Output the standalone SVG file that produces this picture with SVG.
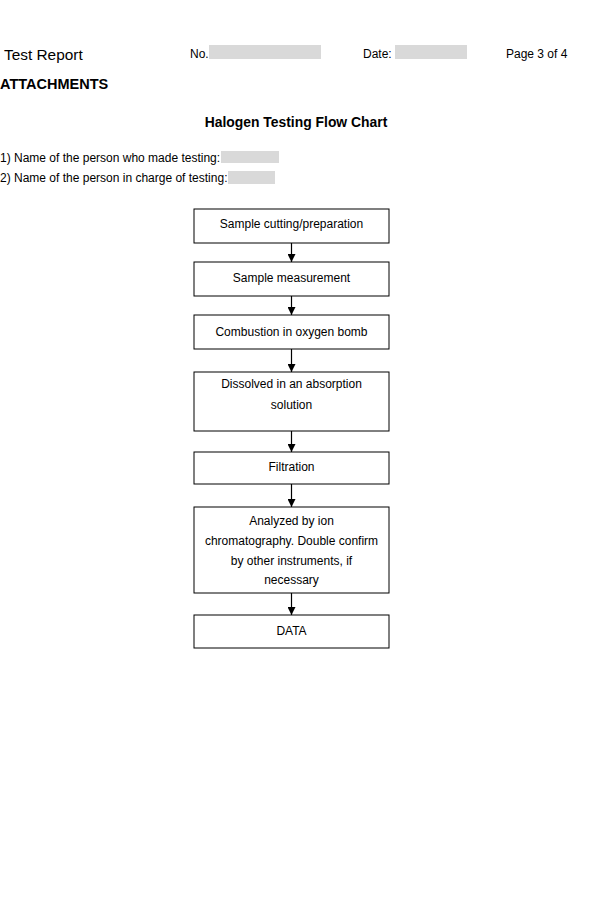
<svg xmlns="http://www.w3.org/2000/svg" width="600" height="910" viewBox="0 0 600 910">
<defs>
<style>
text{font-family:"Liberation Sans",Arial,sans-serif;fill:#000}
.t{font-size:12px}
.c{font-size:12px;text-anchor:middle}
.b{font-weight:bold;font-size:14.5px}
.box{fill:#fff;stroke:#000;stroke-width:1}
.g{fill:#d9d9d9}
.ln{stroke:#000;stroke-width:1.2;fill:none}
</style>
<marker id="ah" viewBox="0 0 10 10" refX="10" refY="5" markerWidth="8" markerHeight="8" markerUnits="userSpaceOnUse" orient="auto">
<path d="M0,0 L10,5 L0,10 z" fill="#000"/>
</marker>
</defs>
<rect width="600" height="910" fill="#fff"/>
<g id="header">
<text x="4" y="60" style="font-size:15.4px">Test Report</text>
<text x="190" y="58" class="t">No.</text>
<rect x="209" y="45" width="112" height="14" class="g"/>
<text x="363" y="58" class="t">Date:</text>
<rect x="395" y="45" width="72" height="14" class="g"/>
<text x="506" y="58" class="t">Page 3 of 4</text>
<text x="0" y="89" class="b">ATTACHMENTS</text>
<text x="296" y="127" class="b" text-anchor="middle" style="font-size:13.9px">Halogen Testing Flow Chart</text>
<text x="0" y="162" class="t">1) Name of the person who made testing:</text>
<rect x="221" y="151" width="58" height="12" class="g"/>
<text x="0" y="182" class="t">2) Name of the person in charge of testing:</text>
<rect x="228" y="171" width="47" height="13" class="g"/>
</g>
<g id="connectors">
<line x1="291.5" y1="243" x2="291.5" y2="262" class="ln" marker-end="url(#ah)"/>
<line x1="291.5" y1="296" x2="291.5" y2="315" class="ln" marker-end="url(#ah)"/>
<line x1="291.5" y1="349" x2="291.5" y2="372" class="ln" marker-end="url(#ah)"/>
<line x1="291.5" y1="431" x2="291.5" y2="452" class="ln" marker-end="url(#ah)"/>
<line x1="291.5" y1="484" x2="291.5" y2="507" class="ln" marker-end="url(#ah)"/>
<line x1="291.5" y1="593" x2="291.5" y2="615" class="ln" marker-end="url(#ah)"/>
</g>
<g id="n1"><rect x="194" y="209" width="195" height="34" class="box"/><text x="291.5" y="228" class="c">Sample cutting/preparation</text></g>
<g id="n2"><rect x="194" y="262" width="195" height="34" class="box"/><text x="291.5" y="282" class="c">Sample measurement</text></g>
<g id="n3"><rect x="194" y="315" width="195" height="34" class="box"/><text x="291.5" y="336" class="c">Combustion in oxygen bomb</text></g>
<g id="n4"><rect x="194" y="372" width="195" height="59" class="box"/><text x="291.5" y="388" class="c">Dissolved in an absorption</text><text x="291.5" y="409" class="c">solution</text></g>
<g id="n5"><rect x="194" y="452" width="195" height="32" class="box"/><text x="291.5" y="471" class="c">Filtration</text></g>
<g id="n6"><rect x="194" y="507" width="195" height="86" class="box"/><text x="291.5" y="525" class="c">Analyzed by ion</text><text x="291.5" y="545" class="c">chromatography. Double confirm</text><text x="291.5" y="565" class="c">by other instruments, if</text><text x="291.5" y="584" class="c">necessary</text></g>
<g id="n7"><rect x="194" y="615" width="195" height="33" class="box"/><text x="291.5" y="635" class="c">DATA</text></g>
</svg>
